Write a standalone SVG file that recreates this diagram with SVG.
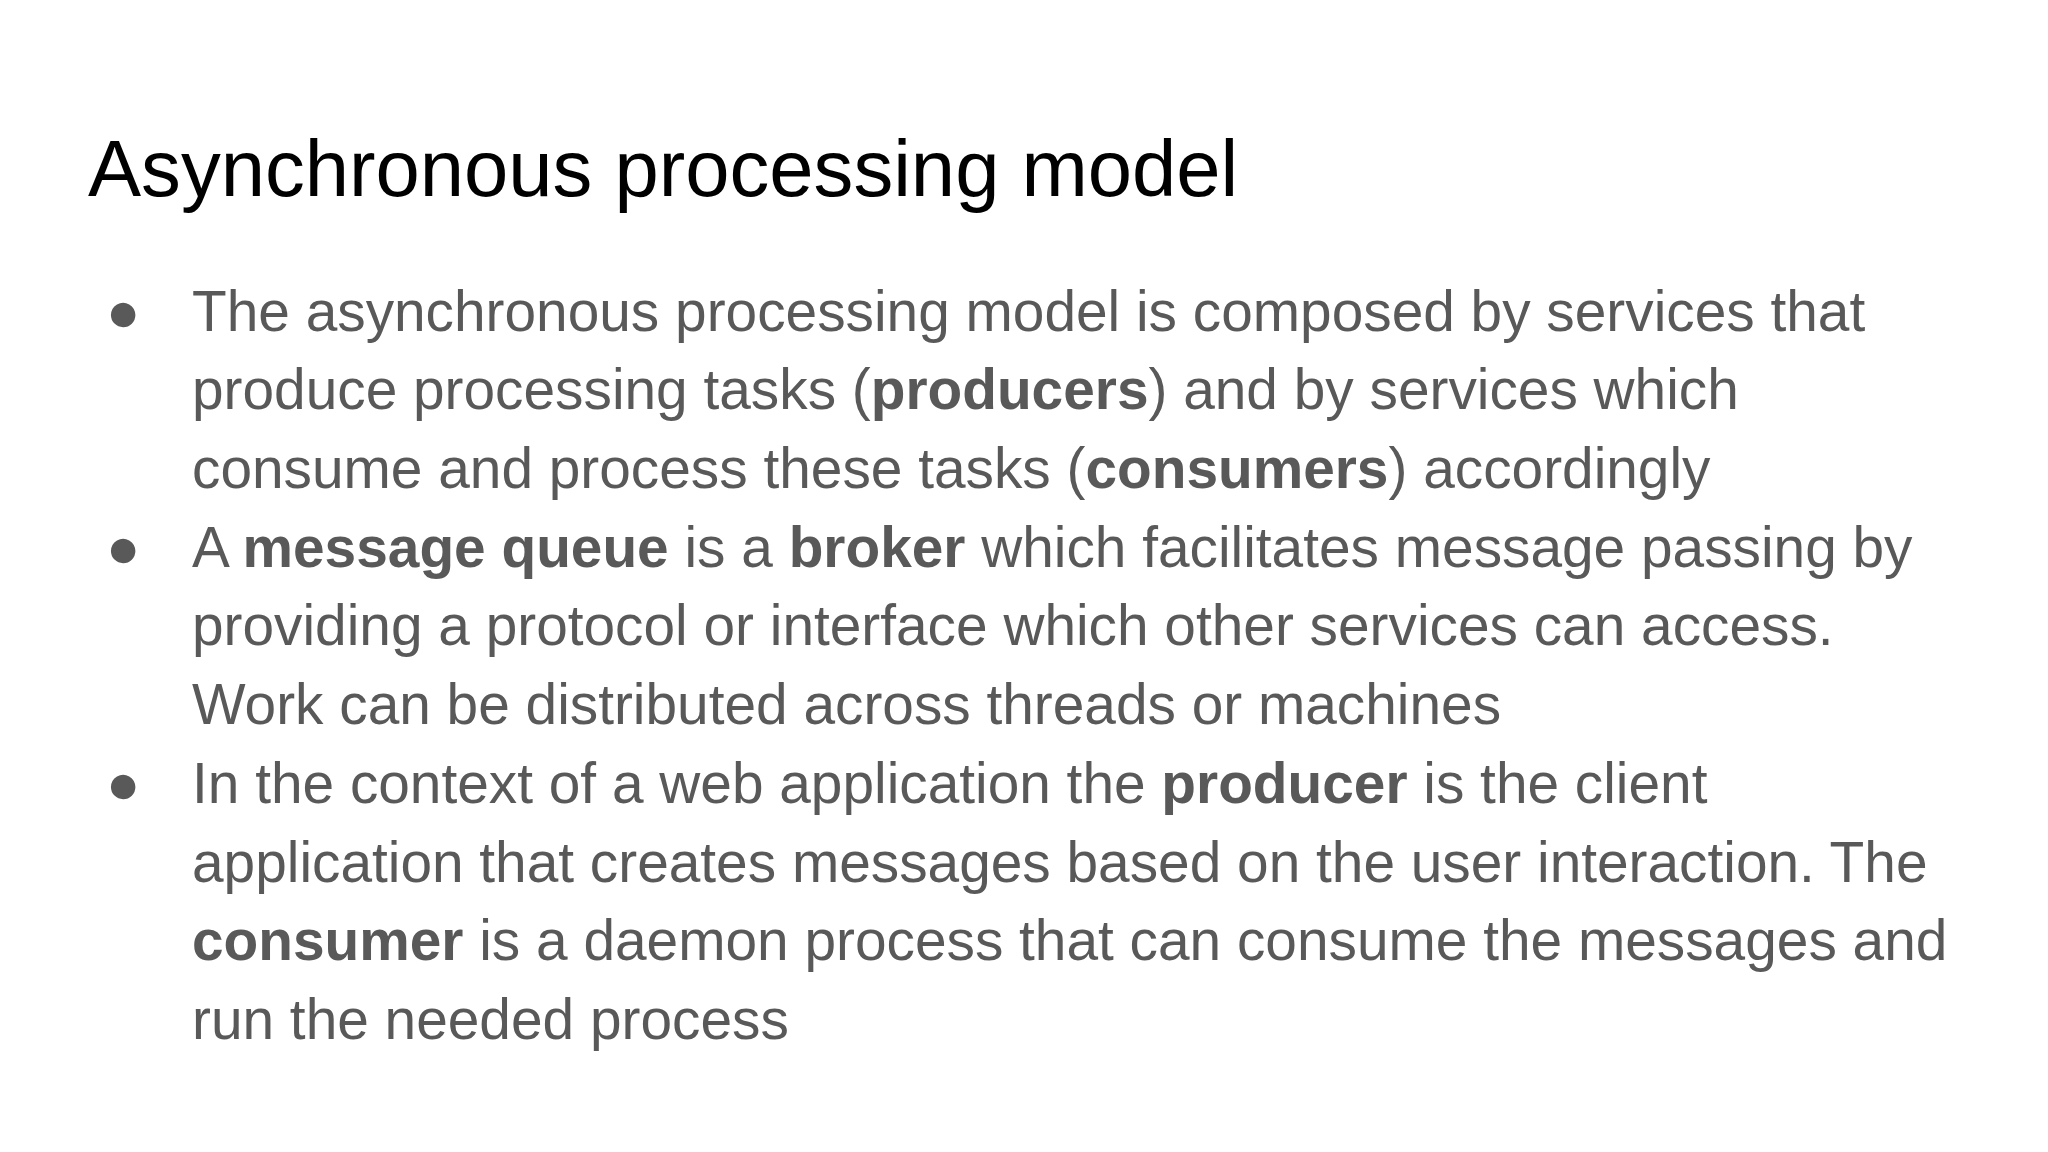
<svg xmlns="http://www.w3.org/2000/svg" width="2048" height="1152" viewBox="0 0 2048 1152">
<style>
.t{font-family:"Liberation Sans",Arial,sans-serif;font-size:79.6px;fill:#000}
.b{font-family:"Liberation Sans",Arial,sans-serif;font-size:56.8px;fill:#595959}
.b tspan.s{font-weight:bold}
</style>
<rect width="2048" height="1152" fill="#fff"/>
<text class="t" x="88" y="196">Asynchronous processing model</text>
<g class="b">
<text x="106" y="331">●</text>
<text x="106" y="567">●</text>
<text x="106" y="803">●</text>
<text x="192" y="331">The asynchronous processing model is composed by services that</text>
<text x="192" y="409">produce processing tasks (<tspan class="s">producers</tspan>) and by services which</text>
<text x="192" y="488">consume and process these tasks (<tspan class="s">consumers</tspan>) accordingly</text>
<text x="192" y="567">A <tspan class="s">message queue</tspan> is a <tspan class="s">broker</tspan> which facilitates message passing by</text>
<text x="192" y="645">providing a protocol or interface which other services can access.</text>
<text x="192" y="724">Work can be distributed across threads or machines</text>
<text x="192" y="803">In the context of a web application the <tspan class="s">producer</tspan> is the client</text>
<text x="192" y="882">application that creates messages based on the user interaction. The</text>
<text x="192" y="960"><tspan class="s">consumer</tspan> is a daemon process that can consume the messages and</text>
<text x="192" y="1039">run the needed process</text>
</g>
</svg>
